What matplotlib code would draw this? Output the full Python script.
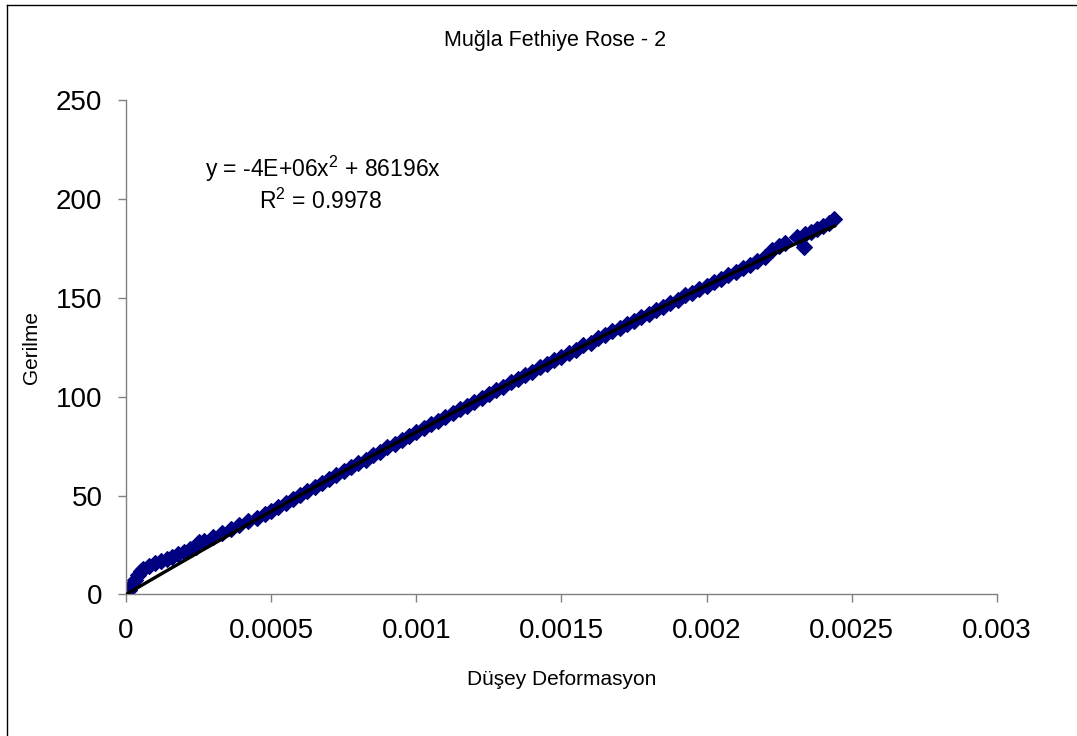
import matplotlib
matplotlib.use("Agg")
import matplotlib.pyplot as plt
from matplotlib.lines import Line2D
import numpy as np

plt.rcParams['font.family'] = ['Liberation Sans', 'DejaVu Sans']
plt.rcParams['mathtext.fontset'] = 'custom'
plt.rcParams['mathtext.rm'] = 'Liberation Sans'
plt.rcParams['mathtext.it'] = 'Liberation Sans'

# Measured vertical strain (Düşey Deformasyon) and stress (Gerilme)
strain = [
    0.0, 0.00001, 0.00002, 0.00003, 0.00004, 0.00005, 0.00006, 0.00008,
    0.0001, 0.00012, 0.00014, 0.00016, 0.00018, 0.0002, 0.00022, 0.00024,
    0.00025, 0.00027, 0.0003, 0.00033, 0.00036, 0.00039, 0.00042, 0.00045,
    0.00048, 0.0005, 0.000525, 0.00055, 0.000575, 0.0006, 0.000625, 0.00065,
    0.000675, 0.0007, 0.000725, 0.00075, 0.000775, 0.0008, 0.000825, 0.00085,
    0.000875, 0.0009, 0.000925, 0.00095, 0.000975, 0.001, 0.001025, 0.00105,
    0.001075, 0.0011, 0.001125, 0.00115, 0.001175, 0.0012, 0.001225, 0.00125,
    0.001275, 0.0013, 0.001325, 0.00135, 0.001375, 0.0014, 0.001425, 0.00145,
    0.001475, 0.0015, 0.001525, 0.00155, 0.001575, 0.0016, 0.001625, 0.00165,
    0.001675, 0.0017, 0.001725, 0.00175, 0.001775, 0.0018, 0.001825, 0.00185,
    0.001875, 0.0019, 0.001925, 0.00195, 0.001975, 0.002, 0.002025, 0.00205,
    0.002075, 0.0021, 0.002125, 0.00215, 0.002175, 0.0022, 0.002225, 0.00225,
    0.00227, 0.00231, 0.002335, 0.00234, 0.00236, 0.00238, 0.0024, 0.00242,
    0.00244,
]
stress = [
    0.0, 2.5, 5.0, 7.5, 9.8, 11.8, 13.0, 14.6,
    15.8, 17.0, 18.0, 19.2, 20.3, 21.5, 22.8, 24.2,
    26.5, 27.3, 29.3, 31.2, 33.3, 35.2, 37.0, 38.8,
    40.5, 42.0, 44.4, 46.3, 48.1, 50.4, 52.5, 54.2,
    56.5, 58.6, 60.3, 62.6, 64.3, 66.5, 68.2, 70.5,
    72.2, 74.5, 76.2, 78.4, 80.1, 82.3, 84.0, 86.2,
    87.9, 89.8, 91.7, 93.9, 95.6, 97.5, 99.5, 101.3,
    103.5, 105.1, 107.3, 108.9, 111.0, 112.7, 114.9, 116.4,
    118.6, 120.2, 122.3, 123.8, 126.0, 127.5, 129.7, 131.2,
    133.3, 134.8, 137.0, 138.5, 140.6, 142.1, 144.1, 145.6,
    147.7, 149.2, 151.3, 152.7, 154.8, 156.3, 158.3, 159.8,
    161.8, 163.3, 165.2, 166.7, 168.7, 170.6, 174.5, 176.5,
    178.0, 181.0, 175.8, 182.3, 183.6, 185.0, 186.6, 188.2,
    190.0,
]

# Second-order trendline through the origin, as reported on the chart
coef_a = -4e6
coef_b = 86196
r_squared = 0.9978

x_ticks = [0, 0.0005, 0.001, 0.0015, 0.002, 0.0025, 0.003]
x_tick_labels = ['0', '0.0005', '0.001', '0.0015', '0.002', '0.0025', '0.003']
y_ticks = [0, 50, 100, 150, 200, 250]

fig = plt.figure(figsize=(10.77, 7.36), dpi=100)
ax = fig.add_axes([0.117, 0.1923, 0.8087, 0.6712])

ax.plot(strain, stress, linestyle='none', marker='D', markersize=8.5,
        color='#000080', markeredgecolor='#000080', markeredgewidth=0.8,
        zorder=2)

xs = np.linspace(0, max(strain), 300)
ax.plot(xs, coef_a * xs ** 2 + coef_b * xs, color='black', linewidth=2.4,
        zorder=3)

ax.set_xlim(0, 0.003)
ax.set_ylim(0, 250)
ax.set_xticks(x_ticks)
ax.set_xticklabels(x_tick_labels)
ax.set_yticks(y_ticks)

for side in ('top', 'right'):
    ax.spines[side].set_visible(False)
for side in ('left', 'bottom'):
    ax.spines[side].set_color('#808080')
    ax.spines[side].set_linewidth(1.0)

ax.tick_params(axis='both', direction='out', length=6, width=1.0,
               color='#808080', labelsize=20, pad=11, labelcolor='black')

ax.set_xlabel('Düşey Deformasyon', fontsize=15)
ax.xaxis.set_label_coords(0.5, -0.152)
ax.set_ylabel('Gerilme', fontsize=15)
ax.yaxis.set_label_coords(-0.098, 0.5)

fig.text(0.515, 0.945, 'Muğla Fethiye Rose - 2', ha='center', va='center',
         fontsize=15.5)

ax.text(0.226, 0.861, 'y = -4E+06x$^{2}$ + 86196x', transform=ax.transAxes,
        ha='center', va='center', fontsize=16.5)
ax.text(0.224, 0.796, 'R$^{2}$ = %.4f' % r_squared, transform=ax.transAxes,
        ha='center', va='center', fontsize=16.5)

# Chart-area frame
fig.add_artist(Line2D([0.0065, 0.0065], [0.0, 0.9932], transform=fig.transFigure,
                      color='black', linewidth=1.0))
fig.add_artist(Line2D([0.0065, 1.0], [0.9932, 0.9932], transform=fig.transFigure,
                      color='black', linewidth=1.0))

fig.savefig('out.png', dpi=100)
